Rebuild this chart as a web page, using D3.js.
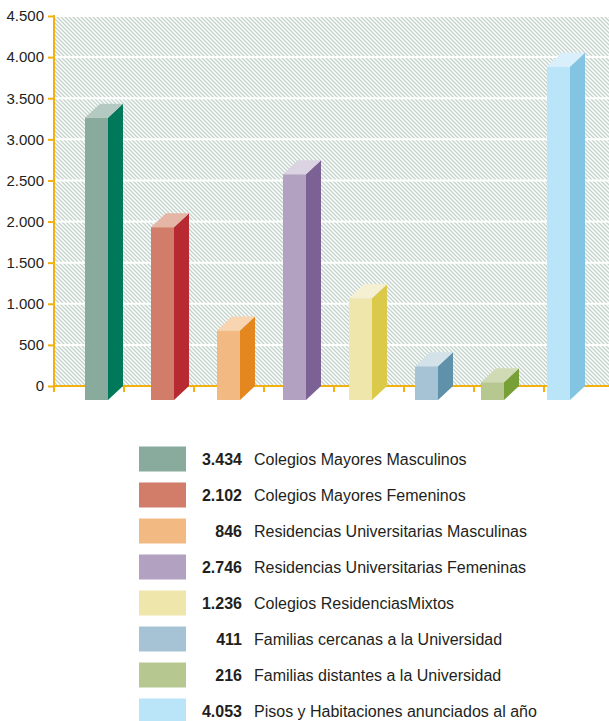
<!DOCTYPE html>
<html>
<head>
<meta charset="utf-8">
<script src="https://cdn.jsdelivr.net/npm/d3@7"></script>
<style>
  html, body { margin: 0; padding: 0; background: #ffffff; }
  svg { display: block; }
  text { font-family: "Liberation Sans", Arial, Helvetica, sans-serif; }
</style>
</head>
<body>
<div id="chart"></div>
<script>
// ---- data ----
const categories = [
  "Colegios Mayores Masculinos",
  "Colegios Mayores Femeninos",
  "Residencias Universitarias Masculinas",
  "Residencias Universitarias Femeninas",
  "Colegios ResidenciasMixtos",
  "Familias cercanas a la Universidad",
  "Familias distantes a la Universidad",
  "Pisos y Habitaciones anunciados al año"
];
const values = [3434, 2102, 846, 2746, 1236, 411, 216, 4053];
const yTicks = [0, 500, 1000, 1500, 2000, 2500, 3000, 3500, 4000, 4500];
const frontColors = ["#89ab9d", "#d17d69", "#f2ba82", "#b2a1c0", "#efe6ab", "#a5c3d5", "#b6c890", "#bae4f8"];
const sideColors  = ["#00795b", "#b82a31", "#e4871e", "#7c6294", "#dbc94a", "#5f91ab", "#77a136", "#82c4e2"];
const topColors   = ["#b4c9c1", "#e5b5a5", "#f8d4b0", "#dbd3e2", "#f6f0d2", "#d3e2e9", "#d0dbb6", "#d9effc"];

// ---- layout ----
const W = 609, H = 721;
const plotLeft = 54, plotRight = 609, plotTop = 16, plotBottom = 386;
const depthX = 15, depthY = 14;
const axisColor = "#f2b10f";
const textColor = "#231f20";

const locale = d3.formatLocale({ decimal: ",", thousands: ".", grouping: [3], currency: ["", "€"] });
const fmt = locale.format(",d");

const svg = d3.select("#chart").append("svg").attr("width", W).attr("height", H);

const defs = svg.append("defs");
const pat = defs.append("pattern")
  .attr("id", "hatch").attr("patternUnits", "userSpaceOnUse")
  .attr("width", 4).attr("height", 4);
pat.append("rect").attr("width", 4).attr("height", 4).attr("fill", "#ffffff");
pat.append("path")
  .attr("d", "M-1,-1 L5,5 M3,-1 L5,1 M-1,3 L1,5")
  .attr("stroke", "#c3d3cc").attr("stroke-width", 1.35);

const y = d3.scaleLinear().domain([0, 4500]).range([plotBottom, plotTop]);

// bars: band scale (front faces)
const xBar = d3.scaleBand().domain(categories)
  .range([85, 85 + 7 * 66 + 23]).paddingInner(43 / 66).paddingOuter(0);
// axis tick slots
const xAxisBand = d3.scaleBand().domain(categories).range([plotLeft, plotLeft + 8 * 70]);

// background hatch
svg.append("rect")
  .attr("x", plotLeft + 1).attr("y", y(4500) + 1)
  .attr("width", plotRight - plotLeft - 1).attr("height", y(0) - y(4500) - 1)
  .attr("fill", "url(#hatch)");

// gridlines
svg.append("g").selectAll("line")
  .data(yTicks.filter(t => t > 0 && t < 4500))
  .join("line")
  .attr("x1", plotLeft + 1).attr("x2", plotRight)
  .attr("y1", d => y(d)).attr("y2", d => y(d))
  .attr("stroke", "#ffffff").attr("stroke-width", 2);

// y axis
const yAxisG = svg.append("g").attr("transform", `translate(${plotLeft},0)`)
  .call(d3.axisLeft(y).tickValues(yTicks).tickFormat(fmt).tickSize(6).tickPadding(4));
yAxisG.select(".domain").attr("stroke", axisColor).attr("stroke-width", 2)
  .attr("d", `M0,${y(4500) - 1}V${y(0) + 1}`);
yAxisG.selectAll(".tick line").attr("stroke", axisColor).attr("stroke-width", 2);
yAxisG.selectAll(".tick text").attr("fill", textColor)
  .style("font-size", "15px").attr("font-family", null);

// x axis line + ticks
svg.append("line")
  .attr("x1", plotLeft).attr("x2", plotRight)
  .attr("y1", y(0)).attr("y2", y(0))
  .attr("stroke", axisColor).attr("stroke-width", 2);
svg.append("g").selectAll("line")
  .data(categories)
  .join("line")
  .attr("x1", d => xAxisBand(d)).attr("x2", d => xAxisBand(d))
  .attr("y1", y(0)).attr("y2", y(0) + 6)
  .attr("stroke", axisColor).attr("stroke-width", 2);

// 3D bars
const bw = xBar.bandwidth();
const bars = svg.append("g").selectAll("g")
  .data(categories.map((c, i) => ({ c, v: values[i], i })))
  .join("g");

bars.append("rect")
  .attr("x", d => xBar(d.c))
  .attr("y", d => y(d.v) + depthY)
  .attr("width", bw)
  .attr("height", d => y(0) - y(d.v))
  .attr("fill", d => frontColors[d.i]);

bars.append("path")
  .attr("d", d => {
    const x0 = xBar(d.c) + bw;
    return `M${x0},${y(d.v) + depthY}L${x0 + depthX},${y(d.v)}L${x0 + depthX},${y(0)}L${x0},${y(0) + depthY}Z`;
  })
  .attr("fill", d => sideColors[d.i]);

bars.append("path")
  .attr("d", d => {
    const x0 = xBar(d.c);
    return `M${x0},${y(d.v) + depthY}L${x0 + depthX},${y(d.v)}L${x0 + bw + depthX},${y(d.v)}L${x0 + bw},${y(d.v) + depthY}Z`;
  })
  .attr("fill", d => topColors[d.i]);

// legend
const legendY = d3.scaleBand().domain(categories).range([441, 441 + 8 * 36]);
const lg = svg.append("g").selectAll("g")
  .data(categories.map((c, i) => ({ c, v: values[i], i })))
  .join("g")
  .attr("transform", d => `translate(0,${legendY(d.c) + 18})`);

lg.append("rect")
  .attr("x", 139).attr("y", -12.5)
  .attr("width", 47).attr("height", 25)
  .attr("fill", d => frontColors[d.i]);

lg.append("text")
  .attr("x", 242).attr("y", 6)
  .attr("text-anchor", "end")
  .attr("font-weight", "bold")
  .attr("font-size", "16px")
  .attr("fill", textColor)
  .text(d => fmt(d.v));

lg.append("text")
  .attr("x", 254).attr("y", 6)
  .attr("font-size", "16px")
  .attr("fill", textColor)
  .text(d => d.c);
</script>
</body>
</html>
